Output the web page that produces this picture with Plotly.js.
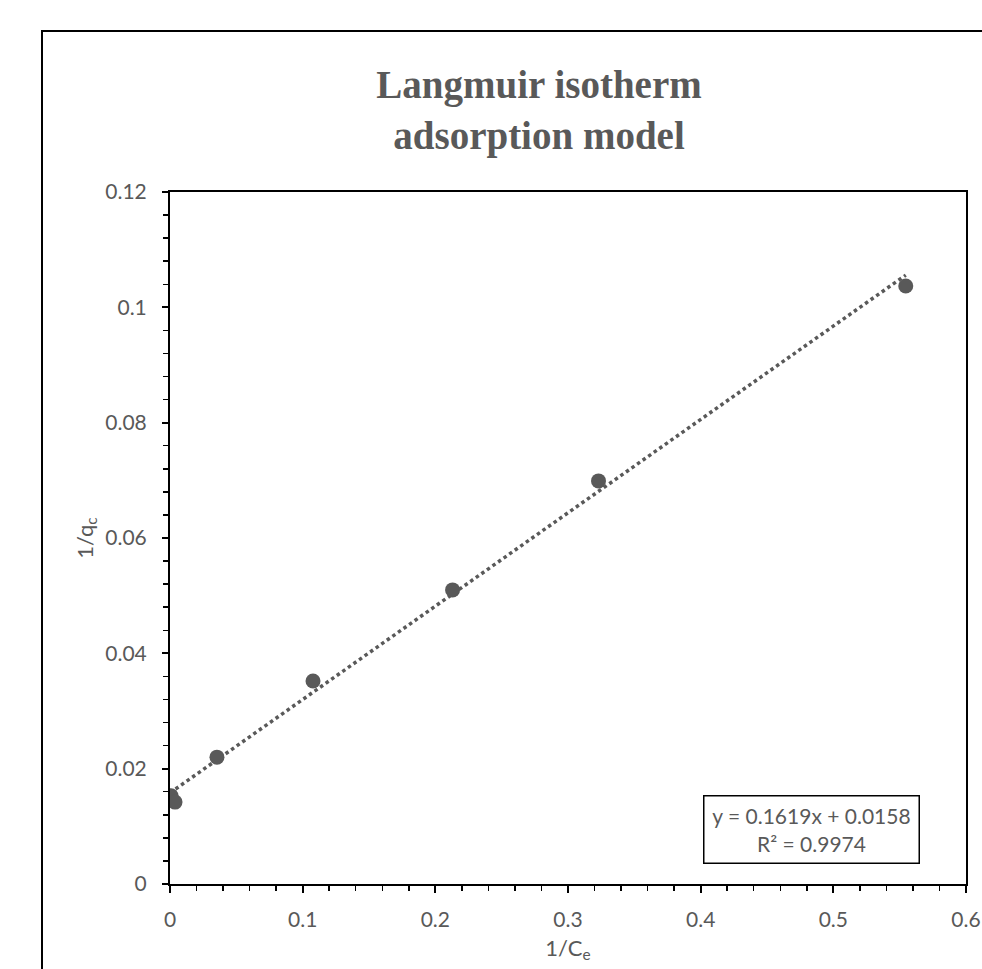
<!DOCTYPE html>
<html>
<head>
<meta charset="utf-8">
<script src="https://cdn.plot.ly/plotly-3.0.1.min.js"></script>
<style>html,body{margin:0;padding:0;background:#fff;}#chart{width:982px;height:969px;}</style>
</head>
<body>
<div id="chart"></div>
<script>
// Data
const invCe = [0.0008, 0.0038, 0.0354, 0.1078, 0.213, 0.323, 0.5546];
const invQe = [0.0153, 0.0142, 0.0220, 0.0352, 0.0510, 0.0699, 0.1037];
// Trendline coefficients (as printed on chart)
const slope = 0.1619;
const intercept = 0.0158;
const r2 = 0.9974;
// Tick labels
const xTickVals = [0, 0.1, 0.2, 0.3, 0.4, 0.5, 0.6];
const xTickText = ["0", "0.1", "0.2", "0.3", "0.4", "0.5", "0.6"];
const yTickVals = [0, 0.02, 0.04, 0.06, 0.08, 0.1, 0.12];
const yTickText = ["0", "0.02", "0.04", "0.06", "0.08", "0.1", "0.12"];

const gray = "#595959";
const tickFont = {family: "Lato, 'Open Sans', sans-serif", size: 21, color: gray};
const titleFont = {family: "Lato, 'Open Sans', sans-serif", size: 22, color: gray};

const xMax = Math.max.apply(null, invCe);
const trendX = [0, xMax];
const trendY = trendX.map(v => slope * v + intercept);

const traces = [
  {
    x: trendX, y: trendY, type: "scatter", mode: "lines",
    line: {color: gray, width: 3.5, dash: "3.5px,3.3px"},
    hoverinfo: "skip", showlegend: false
  },
  {
    x: invCe, y: invQe, type: "scatter", mode: "markers",
    marker: {color: gray, size: 15},
    showlegend: false
  }
];

const L = 170, R = 966, T = 192, B = 884;
const pw = R - L, ph = B - T;
const px = v => (v - L) / pw;
const py = v => (B - v) / ph;

const layout = {
  width: 982, height: 969,
  margin: {l: L, r: 982 - R, t: T, b: 969 - B, pad: 0},
  paper_bgcolor: "#fff", plot_bgcolor: "#fff",
  showlegend: false,
  title: {
    text: "<b>Langmuir isotherm<br>adsorption model</b>",
    font: {family: "'Liberation Serif', 'Times New Roman', serif", size: 39, color: gray},
    xref: "container", x: 539 / 982, xanchor: "center",
    yref: "container", y: 1 - 98 / 969, yanchor: "top"
  },
  xaxis: {
    range: [0, 0.6], tickvals: xTickVals, ticktext: xTickText,
    ticks: "outside", ticklen: 7, tickwidth: 2, tickcolor: "#000",
    minor: {dtick: 0.02, tick0: 0, ticks: "outside", ticklen: 5, tickwidth: 1.5, tickcolor: "#000", showgrid: false},
    showline: true, linecolor: "#000", linewidth: 2, mirror: true,
    showgrid: false, zeroline: false, tickfont: tickFont, ticklabelstandoff: 9,
    title: {text: "1/C<sub>e</sub>", font: titleFont, standoff: 10},
    fixedrange: true
  },
  yaxis: {
    range: [0, 0.12], tickvals: yTickVals, ticktext: yTickText,
    ticks: "outside", ticklen: 6, tickwidth: 2, tickcolor: "#000",
    minor: {dtick: 0.004, tick0: 0, ticks: "outside", ticklen: 5, tickwidth: 1.5, tickcolor: "#000", showgrid: false},
    showline: true, linecolor: "#000", linewidth: 2, mirror: true,
    showgrid: false, zeroline: false, tickfont: tickFont, ticklabelstandoff: 11,
    title: {text: "1/q<sub>c</sub>", font: titleFont, standoff: 6},
    fixedrange: true
  },
  shapes: [
    {type: "rect", xref: "paper", yref: "paper",
     x0: px(42), x1: px(1000), y0: py(990), y1: py(31),
     line: {color: "#000", width: 2}, fillcolor: "rgba(0,0,0,0)", layer: "below"}
  ],
  annotations: [
    {
      xref: "paper", yref: "paper", x: px(811), y: py(829),
      xanchor: "center", yanchor: "middle", showarrow: false,
      text: "y = " + slope + "x + " + intercept + "<br>R² = " + r2,
      font: {family: "Lato, 'Open Sans', sans-serif", size: 21, color: gray},
      bgcolor: "#fff", bordercolor: "#000", borderwidth: 1.5, borderpad: 3,
      width: 208, height: 60, align: "center"
    }
  ]
};

Plotly.newPlot("chart", traces, layout, {displayModeBar: false, staticPlot: true});
</script>
</body>
</html>
